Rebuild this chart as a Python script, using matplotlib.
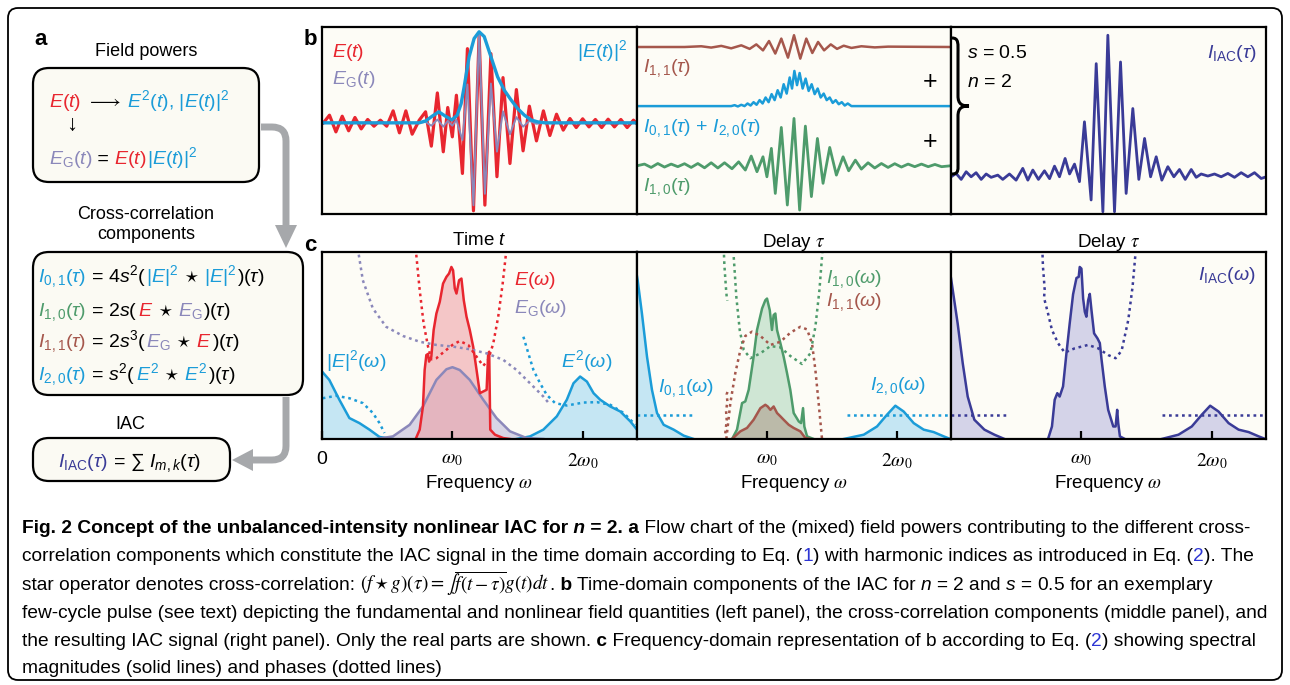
import numpy as np
import matplotlib
matplotlib.use("Agg")
import matplotlib.pyplot as plt
from matplotlib.patches import FancyBboxPatch, Polygon, PathPatch
from matplotlib.path import Path

plt.rcParams['font.family'] = ['Liberation Sans', 'DejaVu Sans']
plt.rcParams['mathtext.fontset'] = 'custom'
plt.rcParams['mathtext.rm'] = 'Liberation Sans'
plt.rcParams['mathtext.it'] = 'Liberation Sans:italic'
plt.rcParams['mathtext.bf'] = 'Liberation Sans:bold'
plt.rcParams['mathtext.sf'] = 'Liberation Sans'

RED = '#e8262f'
BLUE = '#1b9cd8'
PURPLE = '#8b88ba'
GREEN = '#4e9b6b'
BROWN = '#a5574c'
NAVY = '#3a3b97'
LINK = '#2d35d4'
K = 'black'
CREAM = '#fdfcf6'
LBLUE = '#c5e6f3'

# ---- b: time domain, left panel (time in optical cycles, field normalised)
t_e = [-11.89, -11.43, -10.94, -10.46, -9.97, -9.49, -9.01, -8.52, -8.04, -7.55,
       -7.07, -6.58, -6.10, -5.61, -5.13, -4.59, -4.11, -3.67, -3.21, -2.76,
       -2.42, -2.07, -1.76, -1.30, -0.92, -0.46, -0.03, 0.41, 0.87, 1.33,
       1.79, 2.32, 2.81, 3.32, 3.80, 4.34, 4.87, 5.36, 5.87, 6.38,
       6.89, 7.37, 7.86, 8.34, 8.83, 9.31, 9.80, 10.28, 10.77, 11.25, 11.73, 12.02]
e_t = [0.0, 0.080, -0.094, 0.069, -0.083, 0.056, -0.063, 0.035, -0.035, 0.028,
       -0.035, 0.125, -0.104, 0.125, -0.118, 0.028, 0.115, -0.243, 0.312, -0.302,
       0.160, -0.146, 0.288, -0.528, 0.774, -0.917, 0.913, -0.858, 0.722, -0.562,
       0.472, -0.424, 0.347, -0.292, 0.174, -0.188, 0.125, -0.132, 0.090, -0.076,
       0.045, -0.049, 0.042, -0.042, 0.035, -0.049, 0.038, -0.042, 0.035, -0.049, 0.028, -0.014]
t_eg = [-11.89, -4.6, -4.11, -3.67, -3.21, -2.76, -2.42, -2.07, -1.76, -1.30,
        -0.92, -0.46, -0.03, 0.41, 0.87, 1.33, 1.79, 2.32, 2.81, 3.32, 3.80, 4.34, 4.87, 12.02]
eg_t = [0.0, 0.0, 0.01, -0.03, 0.035, -0.04, 0.02, -0.03, 0.03, -0.18,
        0.40, -0.86, 0.93, -0.74, 0.41, -0.30, 0.12, -0.12, 0.06, -0.04, 0.02, -0.01, 0.0, 0.0]
t_env = [-11.9, -4.6, -4.1, -3.6, -3.1, -2.6, -2.1, -1.7, -1.4, -1.17, -0.79, -0.41,
         -0.03, 0.36, 0.87, 1.38, 1.89, 2.4, 2.9, 3.42, 3.93, 4.44, 5.0, 12.0]
env_t = [0.0, 0.0, 0.02, 0.07, 0.115, 0.07, 0.03, 0.08, 0.2, 0.375, 0.69, 0.88,
         0.95, 0.9, 0.69, 0.48, 0.34, 0.24, 0.15, 0.08, 0.03, 0.01, 0.0, 0.0]

# ---- b: middle panel, stacked cross-correlation components
tau_11 = [-11.99, -8.37, -7.09, -6.33, -5.56, -4.80, -4.03, -3.39, -2.88, -2.37, -1.91, -1.43,
          -0.97, -0.46, 0.0, 0.48, 0.94, 1.40, 1.84, 2.30, 2.81, 3.29, 3.80, 4.39, 5.15, 6.17, 7.19, 11.99]
i11_t = [0.893, 0.893, 0.897, 0.890, 0.899, 0.886, 0.902, 0.883, 0.907, 0.875, 0.925, 0.858,
         0.938, 0.836, 0.956, 0.831, 0.938, 0.861, 0.920, 0.875, 0.907, 0.883, 0.900, 0.888,
         0.897, 0.891, 0.895, 0.893]
tau_0120 = [-11.99, -4.80, -4.54, -4.29, -4.03, -3.78, -3.55, -3.32, -3.09, -2.86, -2.63, -2.40,
            -2.17, -1.94, -1.71, -1.48, -1.25, -1.02, -0.79, -0.56, -0.33, -0.15, 0.03, 0.23,
            0.43, 0.66, 0.89, 1.12, 1.35, 1.58, 1.81, 2.04, 2.27, 2.50, 2.73, 2.96, 3.19, 3.42,
            3.65, 3.88, 4.11, 4.39, 11.99]
i0120_t = [0.577, 0.577, 0.582, 0.575, 0.584, 0.577, 0.591, 0.580, 0.598, 0.584, 0.609, 0.591,
           0.623, 0.598, 0.641, 0.609, 0.662, 0.623, 0.694, 0.644, 0.730, 0.671, 0.765, 0.689,
           0.754, 0.671, 0.724, 0.658, 0.694, 0.641, 0.671, 0.623, 0.644, 0.609, 0.623, 0.594,
           0.609, 0.587, 0.598, 0.580, 0.591, 0.577, 0.577]
tau_10 = [-11.99, -11.43, -10.92, -10.41, -9.90, -9.39, -8.88, -8.37, -7.86, -7.35, -6.84, -6.33,
          -5.82, -5.31, -4.74, -4.23, -3.72, -3.27, -2.83, -2.37, -2.07, -1.73, -1.43, -0.97,
          -0.51, 0.0, 0.43, 0.87, 1.33, 1.79, 2.22, 2.73, 3.24, 3.75, 4.18, 4.69, 5.15, 5.66,
          6.17, 6.68, 7.19, 7.70, 8.21, 8.72, 9.23, 9.74, 10.26, 10.77, 11.28, 11.99]
i10_t = [0.258, 0.267, 0.249, 0.270, 0.251, 0.267, 0.253, 0.269, 0.249, 0.270, 0.247, 0.274,
         0.246, 0.274, 0.242, 0.279, 0.235, 0.310, 0.226, 0.306, 0.199, 0.351, 0.110, 0.463,
         0.048, 0.511, 0.021, 0.470, 0.093, 0.404, 0.164, 0.356, 0.208, 0.306, 0.231, 0.288,
         0.240, 0.274, 0.246, 0.270, 0.249, 0.269, 0.251, 0.267, 0.253, 0.267, 0.253, 0.265,
         0.253, 0.258]

# ---- b: right panel, IAC trace
tau_iac = [-11.99, -11.61, -11.22, -10.84, -10.46, -10.08, -9.69, -9.31, -8.93, -8.42, -8.04,
           -7.53, -7.02, -6.51, -6.12, -5.74, -5.31, -4.85, -4.46, -4.08, -3.70, -3.27, -2.93,
           -2.55, -2.17, -1.79, -1.28, -0.89, -0.38, 0.0, 0.51, 0.97, 1.40, 1.91, 2.37, 2.81,
           3.27, 3.70, 4.13, 4.59, 5.05, 5.48, 5.92, 6.38, 6.76, 7.14, 7.65, 8.16, 8.67, 9.18,
           9.69, 10.20, 10.71, 11.22, 11.73, 12.12]
iac_t = [0.199, 0.217, 0.185, 0.226, 0.199, 0.221, 0.185, 0.214, 0.196, 0.208, 0.185,
         0.214, 0.181, 0.244, 0.181, 0.235, 0.185, 0.231, 0.189, 0.256, 0.199, 0.297, 0.214,
         0.267, 0.173, 0.493, 0.075, 0.804, 0.012, 0.956, 0.012, 0.813, 0.110, 0.564, 0.185,
         0.404, 0.199, 0.306, 0.181, 0.253, 0.199, 0.238, 0.185, 0.238, 0.196, 0.214, 0.203,
         0.214, 0.199, 0.217, 0.196, 0.221, 0.199, 0.221, 0.190, 0.199]

# ---- c: frequency domain (omega in units of omega_0), left panel
w_abs = [0.0, 0.056, 0.133, 0.21, 0.287, 0.364, 0.441, 0.544]
abs_mag = [0.361, 0.316, 0.21, 0.112, 0.085, 0.05, 0.011, 0.0]
w_sq = [1.492, 1.595, 1.697, 1.8, 1.877, 1.928, 1.979, 2.031, 2.082, 2.133, 2.21, 2.287, 2.364, 2.415]
sq_mag = [0.0, 0.014, 0.05, 0.121, 0.21, 0.298, 0.334, 0.307, 0.245, 0.21, 0.174, 0.147, 0.094, 0.05]
w_e = [0.718, 0.749, 0.774, 0.787, 0.8, 0.813, 0.821, 0.838, 0.856, 0.877, 0.903, 0.928,
       0.954, 0.974, 0.992, 1.005, 1.018, 1.031, 1.051, 1.069, 1.087, 1.108, 1.133, 1.159,
       1.185, 1.21, 1.236, 1.262, 1.274, 1.282, 1.29, 1.326, 1.39, 1.441]
e_mag = [0.0, 0.05, 0.174, 0.369, 0.449, 0.455, 0.414, 0.44, 0.583, 0.671, 0.734, 0.831,
         0.867, 0.885, 0.92, 0.902, 0.805, 0.778, 0.849, 0.858, 0.742, 0.654, 0.583, 0.494,
         0.369, 0.245, 0.254, 0.263, 0.458, 0.467, 0.05, 0.023, 0.005, 0.0]
w_eg = [0.415, 0.544, 0.672, 0.774, 0.877, 0.954, 1.0, 1.056, 1.133, 1.236, 1.338, 1.441, 1.569, 1.697]
eg_mag = [0.0, 0.014, 0.076, 0.174, 0.316, 0.373, 0.384, 0.369, 0.316, 0.21, 0.112, 0.041, 0.005, 0.0]
w_ep = [0.718, 0.749, 0.779, 0.813, 0.838, 0.877, 0.928, 1.0, 1.056, 1.121, 1.185, 1.236,
        1.274, 1.313, 1.351, 1.385, 1.415]
e_ph = [1.02, 0.796, 0.618, 0.494, 0.426, 0.432, 0.462, 0.503, 0.524, 0.503, 0.44, 0.391,
        0.423, 0.511, 0.654, 0.83, 1.02]
w_egp = [0.274, 0.313, 0.39, 0.492, 0.621, 0.749, 0.877, 1.005, 1.133, 1.262, 1.39, 1.492, 1.595, 1.697, 1.749]
eg_ph = [1.02, 0.849, 0.698, 0.6, 0.551, 0.52, 0.503, 0.494, 0.48, 0.458, 0.423, 0.369, 0.298, 0.227, 0.183]
w_absp = [0.005, 0.108, 0.21, 0.313, 0.39, 0.441, 0.479]
abs_ph = [0.218, 0.231, 0.218, 0.192, 0.139, 0.085, 0.032]
w_sqp = [1.544, 1.582, 1.621, 1.672, 1.723, 1.787, 1.877, 2.005, 2.108, 2.21, 2.313, 2.403]
sq_ph = [0.547, 0.458, 0.369, 0.298, 0.236, 0.192, 0.179, 0.195, 0.197, 0.183, 0.139, 0.076]

# ---- c: middle panel
w_i01 = [0.0, 0.005, 0.038, 0.077, 0.115, 0.154, 0.205, 0.282, 0.359, 0.436]
i01_mag = [0.87, 0.849, 0.671, 0.44, 0.263, 0.139, 0.076, 0.05, 0.018, 0.0]
w_i20 = [1.59, 1.744, 1.846, 1.923, 1.987, 2.051, 2.128, 2.205, 2.282, 2.359, 2.41]
i20_mag = [0.0, 0.023, 0.067, 0.13, 0.178, 0.147, 0.085, 0.05, 0.037, 0.014, 0.0]
w_i10 = [0.731, 0.769, 0.808, 0.833, 0.859, 0.897, 0.923, 0.962, 0.987, 1.0, 1.021, 1.038,
         1.051, 1.064, 1.077, 1.103, 1.128, 1.154, 1.179, 1.205, 1.244, 1.262, 1.277, 1.287, 1.308, 1.359]
i10_mag = [0.0, 0.05, 0.192, 0.201, 0.263, 0.44, 0.583, 0.698, 0.742, 0.751, 0.689, 0.583,
           0.663, 0.671, 0.583, 0.512, 0.44, 0.352, 0.263, 0.139, 0.094, 0.085, 0.165, 0.067, 0.014, 0.0]
w_i11 = [0.731, 0.795, 0.846, 0.897, 0.949, 0.987, 1.005, 1.026, 1.051, 1.077, 1.103, 1.128,
         1.167, 1.205, 1.256, 1.295, 1.333]
i11_mag = [0.0, 0.041, 0.059, 0.103, 0.165, 0.183, 0.174, 0.156, 0.174, 0.139, 0.121, 0.103,
           0.076, 0.059, 0.041, 0.005, 0.0]
w_i10p = [0.744, 0.764, 0.79, 0.821, 0.872, 0.949, 1.026, 1.103, 1.179, 1.269, 1.333, 1.372, 1.403, 1.428]
i10_ph = [0.973, 0.76, 0.583, 0.476, 0.432, 0.458, 0.497, 0.49, 0.444, 0.401, 0.458, 0.6, 0.796, 1.02]
w_i10n = [0.667, 0.672, 0.679, 0.685, 0.69, 0.695]
i10_n = [1.02, 0.93, 0.86, 0.8, 0.76, 0.74]
w_i11p = [0.687, 0.718, 0.756, 0.795, 0.833, 0.885, 0.949, 1.026, 1.103, 1.179, 1.256, 1.308,
          1.346, 1.372, 1.397, 1.423]
i11_ph = [0.0, 0.192, 0.352, 0.476, 0.551, 0.574, 0.551, 0.503, 0.52, 0.568, 0.6, 0.586,
          0.512, 0.369, 0.192, 0.0]
w_i11n = [0.679, 0.69, 0.685, 0.695, 0.69, 0.7]
i11_n = [0.03, 0.1, 0.15, 0.2, 0.24, 0.26]
w_i01p = [0.0, 0.436]
i01_ph = [0.13, 0.13]
w_i20p = [1.615, 2.41]
i20_ph = [0.13, 0.13]

# ---- c: right panel
w_iac_lo = [0.0, 0.051, 0.09, 0.128, 0.179, 0.256, 0.333, 0.41]
iac_lo = [0.86, 0.618, 0.405, 0.227, 0.103, 0.05, 0.023, 0.0]
w_iac_mid = [0.744, 0.774, 0.795, 0.815, 0.833, 0.859, 0.885, 0.91, 0.936, 0.962, 0.979,
             0.987, 1.0, 1.013, 1.026, 1.038, 1.051, 1.064, 1.077, 1.097, 1.123, 1.141,
             1.154, 1.179, 1.205, 1.244, 1.262, 1.274, 1.282, 1.295, 1.333]
iac_mid = [0.0, 0.067, 0.21, 0.245, 0.227, 0.281, 0.458, 0.618, 0.774, 0.861, 0.867,
           0.92, 0.911, 0.751, 0.68, 0.654, 0.74, 0.776, 0.689, 0.565, 0.538, 0.513,
           0.426, 0.281, 0.156, 0.067, 0.067, 0.156, 0.085, 0.014, 0.0]
w_iac_hi = [1.615, 1.744, 1.846, 1.923, 1.987, 2.051, 2.128, 2.205, 2.282, 2.359, 2.41]
iac_hi = [0.0, 0.023, 0.067, 0.13, 0.178, 0.147, 0.085, 0.05, 0.037, 0.014, 0.0]
w_iacp = [0.718, 0.744, 0.774, 0.821, 0.872, 0.949, 1.051, 1.128, 1.205, 1.262, 1.308, 1.359, 1.392, 1.418]
iac_ph = [0.742, 0.671, 0.583, 0.512, 0.462, 0.485, 0.503, 0.485, 0.449, 0.432, 0.472, 0.636, 0.814, 1.02]
w_iacn = [0.7, 0.705, 0.712, 0.718, 0.714, 0.72]
iac_n = [1.02, 0.92, 0.86, 0.8, 0.76, 0.742]

w_ticks = [0, 1, 2]
w_labels = ['0', r'$\omega_0$', r'$2\omega_0$']

W, H = 1290, 685
fig = plt.figure(figsize=(12.9, 6.85), dpi=100)
fig.patch.set_facecolor('white')


def box_axes(x0, y0, x1, y1):
    ax = fig.add_axes([x0 / W, 1 - y1 / H, (x1 - x0) / W, (y1 - y0) / H])
    ax.set_facecolor(CREAM)
    for s in ax.spines.values():
        s.set_linewidth(1.6)
    return ax


bx = [322, 637, 951, 1266]
axb = [box_axes(bx[i], 27, bx[i + 1], 214) for i in range(3)]
axc = [box_axes(bx[i], 252, bx[i + 1], 439) for i in range(3)]

DOT = dict(ls=(0, (1.1, 1.5)), lw=1.8)

# b panels
ax = axb[0]
ax.plot(t_e, e_t, color=RED, lw=2.3, solid_joinstyle='round')
ax.plot(t_eg, eg_t, color=PURPLE, lw=1.4, solid_joinstyle='round')
ax.plot(t_env, env_t, color=BLUE, lw=2.4, solid_joinstyle='round')
ax.set_xlim(-12.0, 12.0)
ax.set_ylim(-0.951, 1.0)

ax = axb[1]
ax.plot(tau_11, i11_t, color=BROWN, lw=1.8, solid_joinstyle='round')
ax.plot(tau_0120, i0120_t, color=BLUE, lw=1.8, solid_joinstyle='round')
ax.plot(tau_10, i10_t, color=GREEN, lw=2.0, solid_joinstyle='round')
ax.set_xlim(-12.0, 12.0)
ax.set_ylim(0, 1)

ax = axb[2]
ax.plot(tau_iac, iac_t, color=NAVY, lw=2.0, solid_joinstyle='round')
ax.set_xlim(-12.0, 12.1)
ax.set_ylim(0, 1)

for ax, lab in zip(axb, ['Time $t$', r'Delay $\tau$', r'Delay $\tau$']):
    ax.set_xticks([])
    ax.set_yticks([])
    ax.set_xlabel(lab, fontsize=13.5, labelpad=13, math_fontfamily='stix' if 'tau' in lab else 'custom')

# c panels
ax = axc[0]
ax.fill_between(w_abs, abs_mag, color=LBLUE, lw=0)
ax.fill_between(w_sq, sq_mag, color=LBLUE, lw=0)
ax.fill_between(w_eg, eg_mag, color='#c9c5df', alpha=0.7, lw=0)
ax.fill_between(w_e, e_mag, color='#ee9ba1', alpha=0.55, lw=0)
ax.plot(w_abs, abs_mag, color=BLUE, lw=1.8)
ax.plot(w_sq, sq_mag, color=BLUE, lw=1.8)
ax.plot(w_eg, eg_mag, color=PURPLE, lw=1.8)
ax.plot(w_e, e_mag, color=RED, lw=1.8)
ax.plot(w_absp, abs_ph, color=BLUE, **DOT)
ax.plot(w_sqp, sq_ph, color=BLUE, **DOT)
ax.plot(w_egp, eg_ph, color=PURPLE, **DOT)
ax.plot(w_ep, e_ph, color=RED, **DOT)

ax = axc[1]
ax.fill_between(w_i01, i01_mag, color=LBLUE, lw=0)
ax.fill_between(w_i20, i20_mag, color=LBLUE, lw=0)
ax.fill_between(w_i10, i10_mag, color='#cfe6d4', lw=0)
ax.fill_between(w_i11, i11_mag, color='#a8907f', alpha=0.5, lw=0)
ax.plot(w_i01, i01_mag, color=BLUE, lw=1.8)
ax.plot(w_i20, i20_mag, color=BLUE, lw=1.8)
ax.plot(w_i10, i10_mag, color=GREEN, lw=1.8)
ax.plot(w_i11, i11_mag, color=BROWN, lw=1.8)
ax.plot(w_i10p, i10_ph, color=GREEN, **DOT)
ax.plot(w_i10n, i10_n, color=GREEN, **DOT)
ax.plot(w_i11p, i11_ph, color=BROWN, **DOT)
ax.plot(w_i11n, i11_n, color=BROWN, **DOT)
ax.plot(w_i01p, i01_ph, color=BLUE, **DOT)
ax.plot(w_i20p, i20_ph, color=BLUE, **DOT)

ax = axc[2]
for wv, mv in [(w_iac_lo, iac_lo), (w_iac_mid, iac_mid), (w_iac_hi, iac_hi)]:
    ax.fill_between(wv, mv, color='#d4d3e8', lw=0)
    ax.plot(wv, mv, color=NAVY, lw=1.8)
ax.plot(w_iacp, iac_ph, color=NAVY, **DOT)
ax.plot(w_iacn, iac_n, color=NAVY, **DOT)
ax.plot(w_i01p, i01_ph, color=NAVY, **DOT)
ax.plot(w_i20p, i20_ph, color=NAVY, **DOT)

for i, ax in enumerate(axc):
    ax.set_xlim(0, 2.415)
    ax.set_ylim(0, 1)
    ax.set_yticks([])
    k = 0 if i == 0 else 1
    ax.set_xticks(w_ticks[k:], w_labels[k:], fontsize=14, math_fontfamily='stix')
    ax.tick_params(axis='x', direction='in', length=6, width=1.6, pad=9)
    ax.set_xlabel(r'Frequency $\omega$', fontsize=13.5, labelpad=1, math_fontfamily='stix')

# overlay in pixel coordinates for panel a, labels, caption
bg = fig.add_axes([0, 0, 1, 1])
bg.set_xlim(0, W)
bg.set_ylim(H, 0)
bg.axis('off')
rend = fig.canvas.get_renderer()


def chain(x, y, parts, size, **kw):
    inv = bg.transData.inverted()
    for p in parts:
        extra = dict(kw)
        if len(p) > 2:
            extra.update(p[2])
        t = bg.text(x, y, p[0], color=p[1], fontsize=size, ha='left', va='baseline', **extra)
        bb = t.get_window_extent(renderer=rend)
        x = inv.transform((bb.x1, bb.y0))[0]
    return x


bg.add_patch(FancyBboxPatch((8, 8), 1274, 672, boxstyle='round,pad=0,rounding_size=10',
                            fc='none', ec=K, lw=1.3))

# panel a
for (x0, y0, w, h) in [(33, 68, 226, 114), (33, 252, 270, 143), (33, 438, 197, 43)]:
    bg.add_patch(FancyBboxPatch((x0, y0), w, h, boxstyle='round,pad=0,rounding_size=16',
                                fc='#fbfaf3', ec=K, lw=1.6))

GRAY = '#a6a8ab'
p1 = Path([(261, 127), (272, 127), (286, 127), (286, 141), (286, 226)],
          [Path.MOVETO, Path.LINETO, Path.CURVE3, Path.CURVE3, Path.LINETO])
bg.add_patch(PathPatch(p1, fc='none', ec=GRAY, lw=5, capstyle='butt'))
bg.add_patch(Polygon([(275, 225), (297, 225), (286, 248)], closed=True, fc=GRAY, ec='none'))
p2 = Path([(286, 397), (286, 446), (286, 460), (272, 460), (252, 460)],
          [Path.MOVETO, Path.LINETO, Path.CURVE3, Path.CURVE3, Path.LINETO])
bg.add_patch(PathPatch(p2, fc='none', ec=GRAY, lw=5, capstyle='butt'))
bg.add_patch(Polygon([(253, 449), (253, 471), (232, 460)], closed=True, fc=GRAY, ec='none'))

bg.text(34, 45, 'a', fontsize=16, fontweight='bold', va='baseline')
bg.text(304, 45, 'b', fontsize=16, fontweight='bold', va='baseline')
bg.text(304, 251, 'c', fontsize=16, fontweight='bold', va='baseline')

bg.text(146, 56, 'Field powers', fontsize=13, ha='center', va='baseline')
bg.text(146, 219, 'Cross-correlation', fontsize=13, ha='center', va='baseline')
bg.text(146, 239, 'components', fontsize=13, ha='center', va='baseline')
bg.text(130, 429, 'IAC', fontsize=13, ha='center', va='baseline')

EQ = 14
chain(49, 107, [('$E(t)$', RED), (r' $\longrightarrow$', K), (' $E^2(t)$, $|E(t)|^2$', BLUE)], EQ)
chain(63, 130, [(r'$\downarrow$', K)], EQ + 2)
chain(49, 164, [(r'$E_\mathrm{G}(t)$', PURPLE), (' =', K), (' $E(t)$', RED), ('$|E(t)|^2$', BLUE)], EQ)
chain(38, 282, [(r'$I_{0,1}(\tau)$', BLUE), (' = 4$s^2$(', K), ('$|E|^2$', BLUE), (r' $\star$', K),
                (' $|E|^2$', BLUE), (r')($\tau$)', K)], EQ)
chain(38, 316, [(r'$I_{1,0}(\tau)$', GREEN), (' = 2$s$(', K), ('$E$', RED), (r' $\star$', K),
                (r' $E_\mathrm{G}$', PURPLE), (r')($\tau$)', K)], EQ)
chain(38, 347, [(r'$I_{1,1}(\tau)$', BROWN), (' = 2$s^3$(', K), (r'$E_\mathrm{G}$', PURPLE),
                (r' $\star$', K), (' $E$', RED), (r')($\tau$)', K)], EQ)
chain(38, 380, [(r'$I_{2,0}(\tau)$', BLUE), (' = $s^2$(', K), ('$E^2$', BLUE), (r' $\star$', K),
                (' $E^2$', BLUE), (r')($\tau$)', K)], EQ)
chain(58, 467, [(r'$I_\mathrm{IAC}(\tau)$', NAVY), (r' = $\sum$ $I_{m,k}(\tau)$', K)], EQ)

# labels inside b panels
LB = 14
bg.text(332, 57, '$E(t)$', color=RED, fontsize=LB, va='baseline')
bg.text(332, 84, r'$E_\mathrm{G}(t)$', color=PURPLE, fontsize=LB, va='baseline')
bg.text(628, 57, '$|E(t)|^2$', color=BLUE, fontsize=LB, va='baseline', ha='right')
bg.text(643, 72, r'$I_{1,1}(\tau)$', color=BROWN, fontsize=LB, va='baseline')
bg.text(643, 132, r'$I_{0,1}(\tau)$ + $I_{2,0}(\tau)$', color=BLUE, fontsize=LB, va='baseline')
bg.text(643, 191, r'$I_{1,0}(\tau)$', color=GREEN, fontsize=LB, va='baseline')
bg.text(930, 82, '+', fontsize=18, ha='center', va='center')
bg.text(930, 142, '+', fontsize=18, ha='center', va='center')
bg.text(967, 58, '$s$ = 0.5', fontsize=LB, va='baseline')
bg.text(967, 87, '$n$ = 2', fontsize=LB, va='baseline')
bg.text(1257, 58, r'$I_\mathrm{IAC}(\tau)$', color=NAVY, fontsize=LB, va='baseline', ha='right')

brace = Path([(952, 38), (959, 38), (958, 44), (958, 54), (958, 96), (958, 104), (962, 106), (969, 106),
              (962, 106), (958, 108), (958, 116), (958, 160), (958, 170), (959, 174), (952, 174)],
             [Path.MOVETO, Path.CURVE4, Path.CURVE4, Path.CURVE4, Path.LINETO, Path.CURVE4, Path.CURVE4,
              Path.CURVE4, Path.CURVE4, Path.CURVE4, Path.CURVE4, Path.LINETO, Path.CURVE4, Path.CURVE4,
              Path.CURVE4])
bg.add_patch(PathPatch(brace, fc='none', ec=K, lw=2.2))

# labels inside c panels
bg.text(514, 285, r'$E(\omega)$', color=RED, fontsize=LB, va='baseline')
bg.text(514, 313, r'$E_\mathrm{G}(\omega)$', color=PURPLE, fontsize=LB, va='baseline')
bg.text(326, 367, r'$|E|^2(\omega)$', color=BLUE, fontsize=LB, va='baseline')
bg.text(561, 367, r'$E^2(\omega)$', color=BLUE, fontsize=LB, va='baseline')
bg.text(826, 283, r'$I_{1,0}(\omega)$', color=GREEN, fontsize=LB, va='baseline')
bg.text(826, 306, r'$I_{1,1}(\omega)$', color=BROWN, fontsize=LB, va='baseline')
bg.text(658, 392, r'$I_{0,1}(\omega)$', color=BLUE, fontsize=LB, va='baseline')
bg.text(870, 390, r'$I_{2,0}(\omega)$', color=BLUE, fontsize=LB, va='baseline')
bg.text(1256, 280, r'$I_\mathrm{IAC}(\omega)$', color=NAVY, fontsize=LB, va='baseline', ha='right')

# caption
CS = 13.8
BOLD = {'fontweight': 'bold'}
chain(22, 533, [('Fig. 2 Concept of the unbalanced-intensity nonlinear IAC for', K, BOLD),
                (' n', K, {'fontweight': 'bold', 'fontstyle': 'italic'}), (' = 2.', K, BOLD), (' a', K, BOLD),
                (' Flow chart of the (mixed) field powers contributing to the different cross-', K)], CS)
chain(22, 561, [('correlation components which constitute the IAC signal in the time domain according to Eq. (', K),
                ('1', LINK), (') with harmonic indices as introduced in Eq. (', K), ('2', LINK), ('). The', K)], CS)
chain(22, 590, [('star operator denotes cross-correlation:', K),
                (r' $(f\star g)(\tau)=\int\overline{f(t-\tau)}g(t)dt$', K, {'math_fontfamily': 'stix'}),
                ('.', K), (' b', K, BOLD), (' Time-domain components of the IAC for', K),
                (' $n$ = 2 and $s$ = 0.5 for an exemplary', K)], CS)
chain(22, 618, [('few-cycle pulse (see text) depicting the fundamental and nonlinear field quantities '
                 '(left panel), the cross-correlation components (middle panel), and', K)], CS)
chain(22, 646, [('the resulting IAC signal (right panel). Only the real parts are shown.', K), (' c', K, BOLD),
                (' Frequency-domain representation of b according to Eq. (', K), ('2', LINK),
                (') showing spectral', K)], CS)
chain(22, 673, [('magnitudes (solid lines) and phases (dotted lines)', K)], CS)

fig.savefig('out.png', dpi=100)
